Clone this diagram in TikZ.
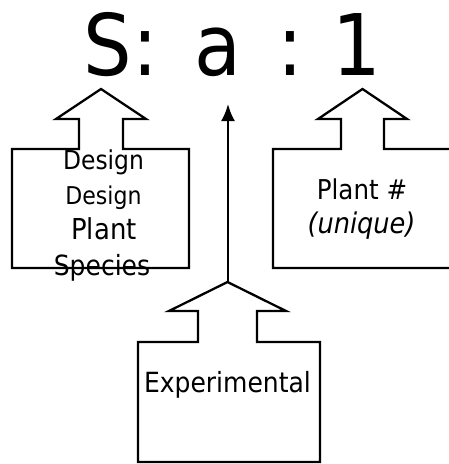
\documentclass[tikz,border=0pt]{standalone}
\usepackage{fontspec}
\setmainfont{DejaVu Sans Condensed}
\usetikzlibrary{arrows.meta}
\tikzset{
  callout/.style={draw=black, line width=2.3pt, line join=miter},
  txt/.style={anchor=base, inner sep=0pt, text=black},
  conn/.style={draw=black, line width=2.3pt, -{Latex[length=17pt,width=14pt]}}
}
\begin{document}
\begin{tikzpicture}[x=1pt, y=-1pt]
\useasboundingbox (0,0) rectangle (449,464);
\clip (0,0) rectangle (449,464);
% big label
\node[txt, font=\fontsize{85}{100}\selectfont] (S) at (107.5,75) {S};
\node[txt, font=\fontsize{85}{100}\selectfont] (c1) at (145,75) {:};
\node[txt, font=\fontsize{85}{100}\selectfont] (A) at (218,75) {a};
\node[txt, font=\fontsize{85}{100}\selectfont] (c2) at (290,75) {:};
\node[txt, font=\fontsize{85}{100}\selectfont] (one) at (357,75) {1};
% callouts
\path[callout] (12,149) -- (79,149) -- (79,119) -- (56,119) -- (101,89) -- (146,119) -- (123,119) -- (123,149) -- (189,149) -- (189,268) -- (12,268) -- cycle;
\path[callout] (273,149) -- (341,149) -- (341,119) -- (318,119) -- (362.5,89) -- (407,119) -- (384,119) -- (384,149) -- (470,149) -- (470,268) -- (273,268) -- cycle;
\path[callout] (138,342) -- (198,342) -- (198,311) -- (169,311) -- (227.5,282) -- (286,311) -- (257,311) -- (257,342) -- (320,342) -- (320,462) -- (138,462) -- cycle;
\coordinate (mtip) at (228,282);
\coordinate (atarget) at (228,104);
\draw[conn] (mtip) -- (atarget);
% texts
\node[txt, font=\fontsize{26}{30}\selectfont] (d1) at (103.5,169) {Design};
\node[txt, font=\fontsize{24.5}{28}\selectfont] (d2) at (103.5,204) {Design};
\node[txt, font=\fontsize{28.8}{33}\selectfont] (p1) at (104,239) {Plant};
\node[txt, font=\fontsize{27.8}{32}\selectfont] (sp) at (102,275) {Species};
\node[txt, font=\fontsize{27.3}{31}\selectfont] (p2) at (362,199) {Plant \#};
\node[txt, font=\fontsize{28.5}{33}\selectfont\itshape] (u) at (361.5,233) {(unique)};
\node[txt, font=\fontsize{27.8}{32}\selectfont] (ex) at (227.5,392) {Experimental};
\end{tikzpicture}
\end{document}
